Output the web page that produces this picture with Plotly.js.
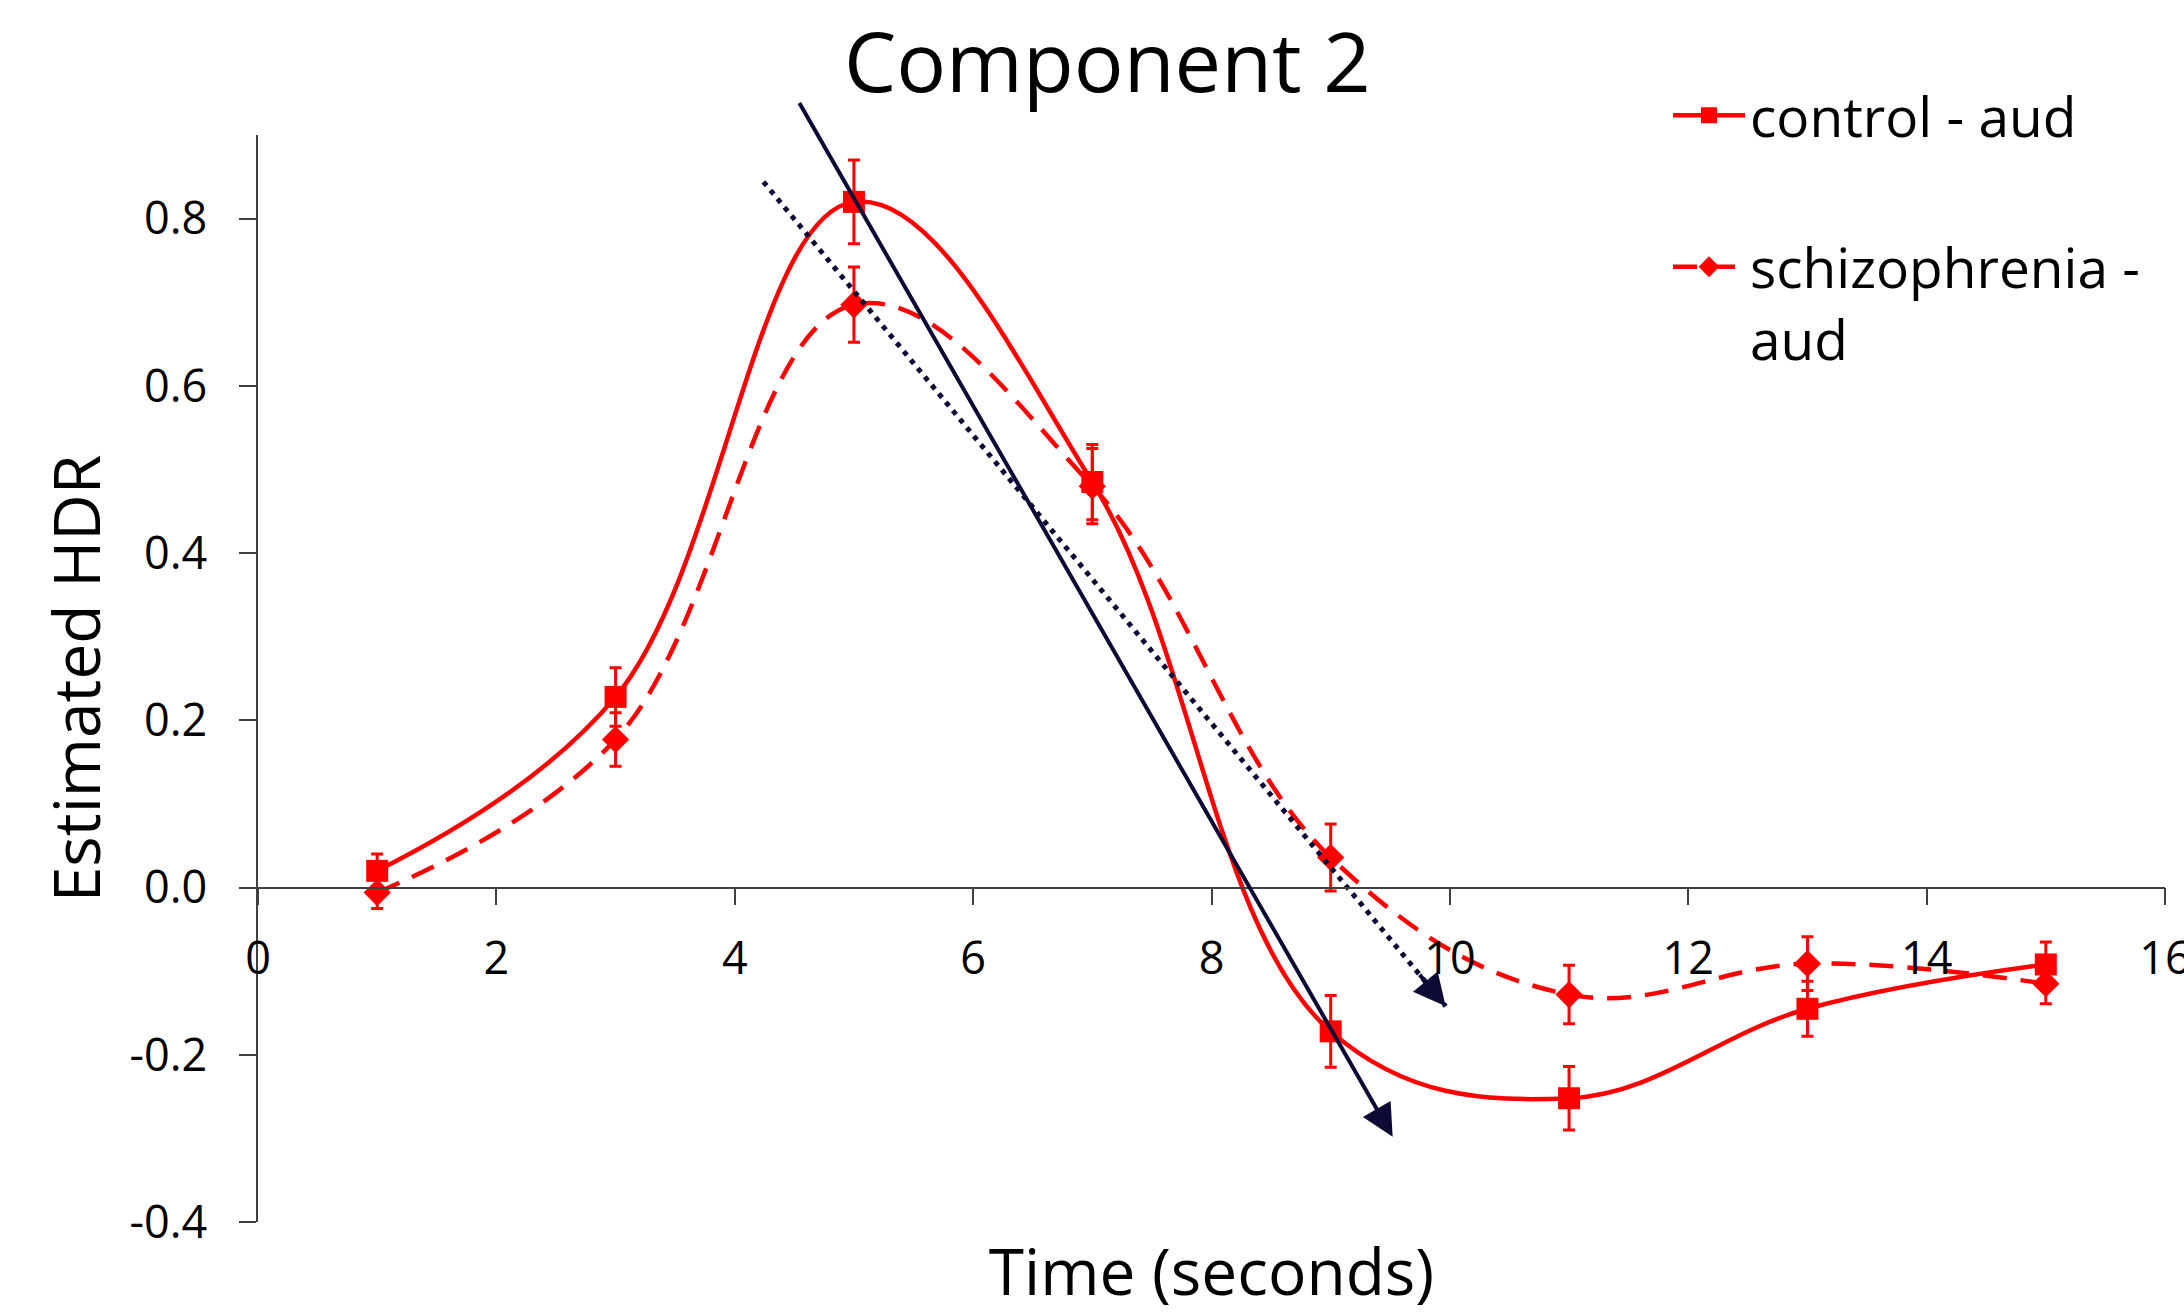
<!DOCTYPE html>
<html>
<head>
<meta charset="utf-8">
<script src="https://cdn.plot.ly/plotly-3.0.1.min.js"></script>
<style>html,body{margin:0;padding:0;background:#fff;}#chart{width:2184px;height:1316px;}</style>
</head>
<body>
<div id="chart"></div>
<script>
// ---- data ----
var timeSec = [1, 3, 5, 7, 9, 11, 13, 15];
var controlAud = [0.02, 0.228, 0.82, 0.485, -0.172, -0.252, -0.145, -0.092];
var controlErr = [0.02, 0.035, 0.05, 0.045, 0.043, 0.038, 0.033, 0.027];
var schizAud = [-0.006, 0.177, 0.697, 0.48, 0.036, -0.128, -0.091, -0.115];
var schizErr = [0.019, 0.032, 0.045, 0.045, 0.04, 0.035, 0.032, 0.024];
var seriesNames = ['control - aud', 'schizophrenia -<br>aud'];
var xTickVals = [0, 2, 4, 6, 8, 10, 12, 14, 16];
var xTickText = ['0', '2', '4', '6', '8', '10', '12', '14', '16'];
var yTickVals = [-0.4, -0.2, 0.0, 0.2, 0.4, 0.6, 0.8];
var yTickText = ['-0.4', '-0.2', '0.0', '0.2', '0.4', '0.6', '0.8'];
// slope arrows (tail, head)
var solidArrowX = [4.535, 9.52];
var solidArrowY = [0.94, -0.298];
var dottedArrowX = [4.241, 9.965];
var dottedArrowY = [0.844, -0.142];

var RED = '#ff0000';
var NAVY = '#0b0b35';
var FONT = 'Open Sans, sans-serif';

var traces = [
  {
    x: timeSec, y: controlAud, name: seriesNames[0], type: 'scatter', mode: 'lines+markers',
    legendgroup: 'a',
    line: {color: RED, width: 4.5, shape: 'spline', smoothing: 1.1},
    marker: {symbol: 'square', size: 22, color: RED},
    error_y: {type: 'data', array: controlErr, visible: true, color: RED, thickness: 3, width: 6}
  },
  {
    x: timeSec, y: schizAud, name: seriesNames[1], type: 'scatter', mode: 'lines+markers',
    legendgroup: 'b',
    line: {color: RED, width: 4.5, shape: 'spline', smoothing: 1.1, dash: '24px,14px'},
    marker: {symbol: 'diamond', size: 21, color: RED},
    error_y: {type: 'data', array: schizErr, visible: true, color: RED, thickness: 3, width: 6}
  },
  {
    x: dottedArrowX, y: dottedArrowY, type: 'scatter', mode: 'lines', showlegend: false,
    hoverinfo: 'skip',
    line: {color: NAVY, width: 5, dash: '5px,6px'}
  }
];

// short tail point just behind the dotted arrow tip, for the arrowhead
var f = 0.04;
var dotTailX = dottedArrowX[1] - f * (dottedArrowX[1] - dottedArrowX[0]);
var dotTailY = dottedArrowY[1] - f * (dottedArrowY[1] - dottedArrowY[0]);

var layout = {
  width: 2184, height: 1316,
  paper_bgcolor: '#ffffff', plot_bgcolor: '#ffffff',
  margin: {l: 258, r: 19, t: 135, b: 94, autoexpand: false},
  font: {family: FONT, color: '#000000'},
  showlegend: true,
  title: {
    text: 'Component 2', font: {family: FONT, size: 83, color: '#000'},
    xref: 'container', x: 0.507, xanchor: 'center',
    yref: 'container', y: 1 - 63 / 1316, yanchor: 'middle'
  },
  xaxis: {
    range: [0, 16], anchor: 'free', position: 0.4 / 1.3,
    showline: true, linecolor: '#404040', linewidth: 1.5,
    ticks: 'outside', ticklen: 17, tickwidth: 1.5, tickcolor: '#404040',
    tickvals: xTickVals, ticktext: xTickText, ticklabeloverflow: 'allow',
    ticklabelstandoff: 15,
    tickfont: {family: FONT, size: 45, color: '#000'},
    showgrid: false, zeroline: false,
    title: {text: 'Time (seconds)', font: {family: FONT, size: 64, color: '#000'}, standoff: 263}
  },
  yaxis: {
    range: [-0.4, 0.9],
    showline: true, linecolor: '#404040', linewidth: 1.5,
    ticks: 'outside', ticklen: 17, tickwidth: 1.5, tickcolor: '#404040',
    tickvals: yTickVals, ticktext: yTickText,
    ticklabelstandoff: 23,
    tickfont: {family: FONT, size: 45, color: '#000'},
    showgrid: false, zeroline: false,
    title: {text: 'Estimated HDR', font: {family: FONT, size: 64, color: '#000'}, standoff: 8}
  },
  legend: {
    xref: 'container', yref: 'container',
    x: 1668 / 2184, xanchor: 'left', y: 1 - 73 / 1316, yanchor: 'top',
    bgcolor: 'rgba(0,0,0,0)', borderwidth: 0,
    font: {family: FONT, size: 55, color: '#000'},
    itemwidth: 72, valign: 'top', tracegroupgap: 77, traceorder: 'grouped'
  },
  annotations: [
    {
      xref: 'x', yref: 'y', axref: 'x', ayref: 'y',
      x: solidArrowX[1], y: solidArrowY[1], ax: solidArrowX[0], ay: solidArrowY[0],
      text: '', showarrow: true, arrowhead: 2, arrowsize: 1.6, arrowwidth: 4, arrowcolor: NAVY, standoff: 0
    },
    {
      xref: 'x', yref: 'y', axref: 'x', ayref: 'y',
      x: dottedArrowX[1], y: dottedArrowY[1], ax: dotTailX, ay: dotTailY,
      text: '', showarrow: true, arrowhead: 2, arrowsize: 1.6, arrowwidth: 4, arrowcolor: NAVY, standoff: 0
    }
  ]
};

Plotly.newPlot('chart', traces, layout, {displayModeBar: false, responsive: false});
</script>
</body>
</html>
